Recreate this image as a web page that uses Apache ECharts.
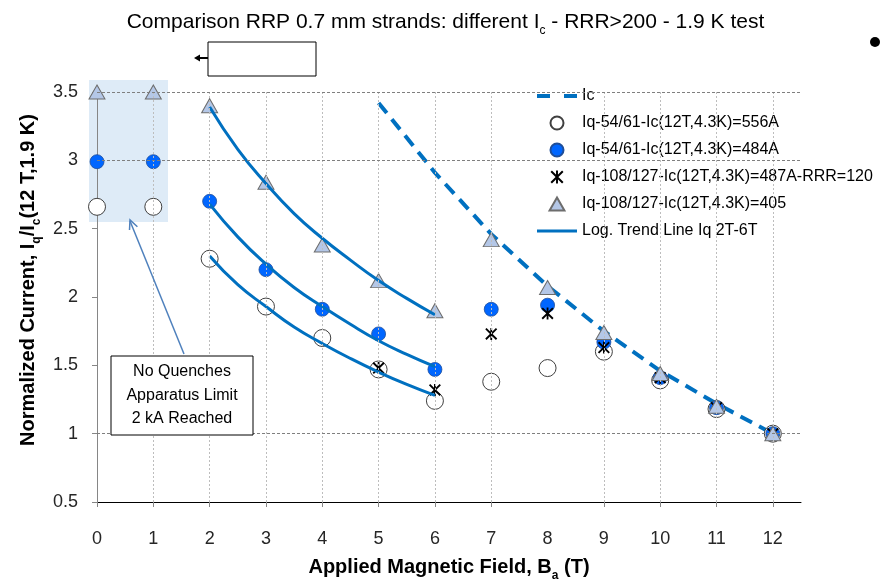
<!DOCTYPE html>
<html>
<head>
<meta charset="utf-8">
<script src="https://cdn.jsdelivr.net/npm/echarts@6/dist/echarts.min.js"></script>
<style>
html,body{margin:0;padding:0;background:#fff;}
#main{width:891px;height:587px;}
</style>
</head>
<body>
<div id="main"></div>
<script>
var FONT = "'Liberation Sans',sans-serif";

// field values (T)
var fieldB = [0,1,2,3,4,5,6,7,8,9,10,11,12];
var xTicks = [0,1,2,3,4,5,6,7,9,10,11,12]; // original has no tick / gridline at 8
// normalized currents
var iq556 = [2.66,2.66,2.28,1.93,1.70,1.47,1.24,1.38,1.48,1.60,1.39,1.18,1.00];
var iq484 = [2.99,2.99,2.70,2.20,1.91,1.73,1.47,1.91,1.94,1.67,1.41,1.19,1.00];
var fieldRRR = [5,6,7,8,9,10,11,12];
var iq487 = [1.48,1.32,1.73,1.88,1.63,1.41,1.19,1.00];
var iq405 = [3.50,3.50,3.40,2.84,2.38,2.12,1.90,2.42,2.07,1.74,1.44,1.20,1.00];
var fieldIc = [5,6,7,8,9,10,11,12];
var icCurve = [3.42,2.91,2.46,2.08,1.75,1.46,1.22,1.00];
// log trend lines 2T-6T
var fieldTrend = [2,2.5,3,3.5,4,4.5,5,5.5,6];
var trend556 = [2.30,2.09,1.93,1.78,1.66,1.55,1.45,1.36,1.28];
var trend484 = [2.68,2.44,2.24,2.07,1.93,1.80,1.68,1.58,1.49];
var trend405 = [3.39,3.08,2.83,2.61,2.43,2.27,2.12,1.99,1.87];
// dashed reference lines
var hLines = [3.5,3,1];
var vLines = [1,2,3,4,5,6,7,9,10,11,12];

var names = ['Ic','Iq-54/61-Ic(12T,4.3K)=556A','Iq-54/61-Ic(12T,4.3K)=484A',
	'Iq-108/127-Ic(12T,4.3K)=487A-RRR=120','Iq-108/127-Ic(12T,4.3K)=405','Log. Trend Line Iq 2T-6T'];

var starPath = 'path://M8.5 0L11.5 0L11.5 20L8.5 20Z M0 2.2L2.2 0L20 17.8L17.8 20Z M17.8 0L20 2.2L2.2 20L0 17.8Z';
var triPath = 'path://M8 0L16 14L0 14Z';

function pairs(xs, ys){
	var out = [];
	for (var i = 0; i < xs.length; i++) out.push([xs[i], ys[i]]);
	return out;
}

var gridMarks = [];
for (var i = 0; i < vLines.length; i++) {
	gridMarks.push({xAxis: vLines[i], lineStyle: {color: '#BDBDBD', type: [2,2], width: 1}});
}
for (var j = 0; j < hLines.length; j++) {
	gridMarks.push({yAxis: hLines[j], lineStyle: {color: '#7F7F7F', type: [3,2], width: 1}});
}

var sub = {fontSize: 12, fontFamily: FONT, verticalAlign: 'bottom', lineHeight: 22, padding: [0,0,-4,0]};
var subB = {fontSize: 12, fontFamily: FONT, fontWeight: 'bold', verticalAlign: 'bottom', lineHeight: 22, padding: [0,0,-4,0]};

var trendLine = {color: '#0070C0', width: 3};

var option = {
	animation: false,
	backgroundColor: '#fff',
	title: {
		text: 'Comparison RRP 0.7 mm strands: different I{s|c} - RRR>200 - 1.9 K test',
		left: 'center',
		top: 6,
		textStyle: {fontFamily: FONT, fontSize: 21, fontWeight: 'normal', color: '#000', lineHeight: 22, rich: {s: sub}}
	},
	legend: {
		orient: 'vertical',
		left: 515,
		top: 80,
		padding: [8, 10, 5, 22],
		backgroundColor: '#fff',
		itemWidth: 40,
		itemHeight: 13,
		itemGap: 11,
		textStyle: {fontFamily: FONT, fontSize: 16, color: '#000'},
		data: [
			{name: names[0], icon: 'path://M0 0H13V4H0Z M27 0H40V4H27Z', itemStyle: {color: '#0070C0'}},
			{name: names[1], icon: 'circle'},
			{name: names[2], icon: 'circle'},
			{name: names[3], icon: starPath},
			{name: names[4], icon: triPath},
			{name: names[5], icon: 'path://M0 0H40V3H0Z', itemStyle: {color: '#0070C0'}}
		]
	},
	grid: {left: 97, right: 90, top: 92, bottom: 75, containLabel: false},
	xAxis: {
		type: 'value', min: 0, max: 12.5, interval: 1,
		name: 'Applied Magnetic Field, B{s|a} (T)',
		nameLocation: 'middle', nameGap: 54,
		nameTextStyle: {fontFamily: FONT, fontSize: 20, fontWeight: 'bold', color: '#000', lineHeight: 22, rich: {s: subB}},
		axisLine: {lineStyle: {color: '#000', width: 1}},
		axisTick: {show: true, length: 5, customValues: xTicks, lineStyle: {color: '#868686'}},
		axisLabel: {customValues: fieldB, margin: 28, fontFamily: FONT, fontSize: 18, color: '#262626'},
		splitLine: {show: false}
	},
	yAxis: {
		type: 'value', min: 0.5, max: 3.5, interval: 0.5,
		axisLine: {show: true, lineStyle: {color: '#868686', width: 1}},
		axisTick: {show: true, length: 5, lineStyle: {color: '#868686'}},
		axisLabel: {margin: 19, fontFamily: FONT, fontSize: 18, color: '#262626'},
		splitLine: {show: false}
	},
	series: [
		{
			name: 'grid', type: 'scatter', data: [], z: 1, silent: true,
			markLine: {silent: true, symbol: 'none', label: {show: false}, animation: false, data: gridMarks}
		},
		{
			name: names[0], type: 'line', data: pairs(fieldIc, icCurve), symbol: 'none', showSymbol: false, z: 2,
			lineStyle: {color: '#0070C0', width: 4, type: [13, 8]},
			itemStyle: {color: '#0070C0'}
		},
		{
			name: names[1], type: 'scatter', data: pairs(fieldB, iq556), symbol: 'circle', symbolSize: 17, z: 2,
			itemStyle: {color: '#fff', borderColor: '#404040', borderWidth: 1, opacity: 1}
		},
		{
			name: names[2], type: 'scatter', data: pairs(fieldB, iq484), symbol: 'circle', symbolSize: 14, z: 2,
			itemStyle: {color: '#0066FF', borderColor: '#1F4E99', borderWidth: 0.8, opacity: 1}
		},
		{
			name: names[3], type: 'scatter', data: pairs(fieldRRR, iq487), symbol: starPath, symbolSize: 12, z: 2,
			itemStyle: {color: '#000', opacity: 1}
		},
		{
			name: names[4], type: 'scatter', data: pairs(fieldB, iq405), symbol: 'triangle', symbolSize: [16, 14], z: 2,
			itemStyle: {color: '#B4C7E7', borderColor: '#6D6D6D', borderWidth: 1, opacity: 1}
		},
		{
			name: names[5], type: 'line', data: pairs(fieldTrend, trend556), smooth: true, symbol: 'none', showSymbol: false, z: 3,
			lineStyle: trendLine, itemStyle: {color: '#0070C0'}
		},
		{
			name: names[5], type: 'line', data: pairs(fieldTrend, trend484), smooth: true, symbol: 'none', showSymbol: false, z: 3,
			lineStyle: trendLine, itemStyle: {color: '#0070C0'}
		},
		{
			name: names[5], type: 'line', data: pairs(fieldTrend, trend405), smooth: true, symbol: 'none', showSymbol: false, z: 3,
			lineStyle: trendLine, itemStyle: {color: '#0070C0'}
		}
	],
	graphic: [
		{type: 'rect', z: -1, silent: true, shape: {x: 89, y: 80, width: 79, height: 142}, style: {fill: '#DEEBF7'}},
		{type: 'polyline', z: 10, shape: {points: [[184, 354], [130, 221]]}, style: {stroke: '#4F81BD', lineWidth: 1.5, fill: null}},
		{type: 'polyline', z: 10, shape: {points: [[129.5, 230], [130, 220], [137.4, 226.8]]}, style: {stroke: '#4F81BD', lineWidth: 1.5, fill: null}},
		{type: 'rect', z: 10, shape: {x: 111, y: 356, width: 142, height: 79}, style: {fill: '#fff', stroke: '#000', lineWidth: 1}},
		{type: 'text', z: 11, x: 182, y: 372, style: {text: 'No Quenches', fontFamily: FONT, fontSize: 16, fill: '#000', align: 'center', verticalAlign: 'middle'}},
		{type: 'text', z: 11, x: 182, y: 396, style: {text: 'Apparatus Limit', fontFamily: FONT, fontSize: 16, fill: '#000', align: 'center', verticalAlign: 'middle'}},
		{type: 'text', z: 11, x: 182, y: 419, style: {text: '2 kA Reached', fontFamily: FONT, fontSize: 16, fill: '#000', align: 'center', verticalAlign: 'middle'}},
		{type: 'rect', z: 10, shape: {x: 208, y: 42, width: 108, height: 34}, style: {fill: '#fff', stroke: '#000', lineWidth: 1}},
		{type: 'line', z: 10, shape: {x1: 208, y1: 58, x2: 199, y2: 58}, style: {stroke: '#000', lineWidth: 2}},
		{type: 'polygon', z: 10, shape: {points: [[194, 58], [200, 54.5], [200, 61.5]]}, style: {fill: '#000'}},
		{type: 'circle', z: 10, shape: {cx: 875, cy: 42, r: 5}, style: {fill: '#000'}},
		{
			type: 'text', z: 10, x: 28, y: 280, rotation: Math.PI / 2,
			style: {
				text: 'Normalized Current, I{s|q}/I{s|c}(12 T,1.9 K)',
				fontFamily: FONT, fontSize: 20, fontWeight: 'bold', fill: '#000', lineHeight: 22,
				align: 'center', verticalAlign: 'middle',
				rich: {s: subB}
			}
		}
	]
};

var myChart = echarts.init(document.getElementById('main'));
myChart.setOption(option);
</script>
</body>
</html>
